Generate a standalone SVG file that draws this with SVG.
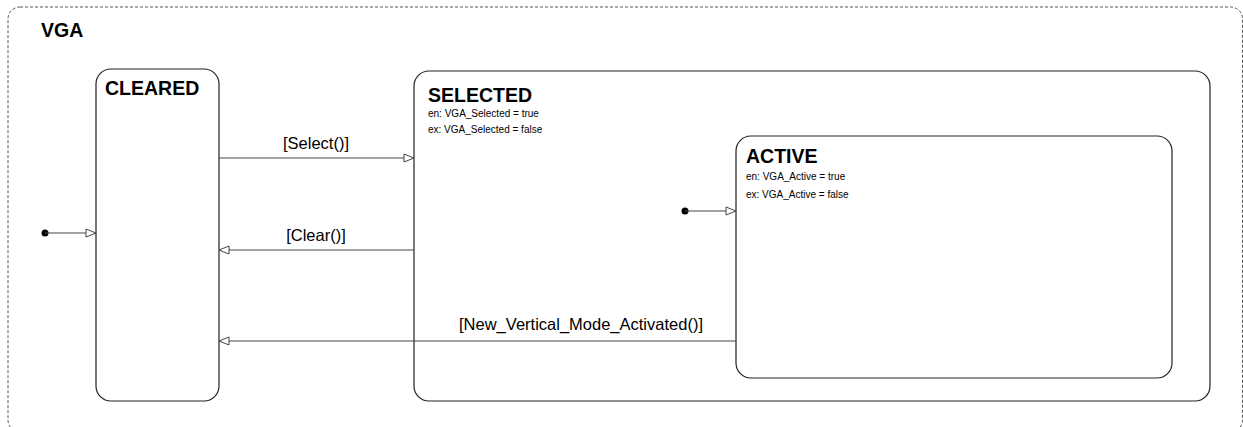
<svg xmlns="http://www.w3.org/2000/svg" width="1243" height="427" viewBox="0 0 1243 427">
<style>
.st{fill:#fff;stroke:#222;stroke-width:1.2}
.t{font-family:"Liberation Sans",Arial,sans-serif;fill:#000}
.h{font-weight:bold;font-size:19.5px}
.s{font-size:10px}
.l{font-size:16.5px;text-anchor:middle}
.c{stroke:#444;stroke-width:1.2;fill:none}
</style>
<defs>
<marker id="a" markerWidth="12" markerHeight="10" refX="11" refY="5" orient="auto" markerUnits="userSpaceOnUse">
<path d="M1,1 L11,5 L1,9 Z" fill="#fff" stroke="#444" stroke-width="1"/>
</marker>
</defs>
<rect width="1243" height="427" fill="#fff"/>
<g id="VGA">
<rect x="8" y="7" width="1234.5" height="425" rx="12" fill="none" stroke="#555" stroke-width="1" stroke-dasharray="3,2"/>
<text class="t h" x="41" y="37">VGA</text>
</g>
<g id="CLEARED">
<rect class="st" x="96" y="69" width="123" height="332" rx="15"/>
<text class="t h" x="105" y="95">CLEARED</text>
</g>
<g id="SELECTED">
<rect class="st" x="414" y="71" width="796" height="330" rx="15"/>
<text class="t h" x="428" y="102">SELECTED</text>
<text class="t s" x="428" y="117">en: VGA_Selected = true</text>
<text class="t s" x="428" y="133">ex: VGA_Selected = false</text>
</g>
<g id="ACTIVE">
<rect class="st" x="736" y="136" width="436" height="242" rx="15"/>
<text class="t h" x="746" y="163">ACTIVE</text>
<text class="t s" x="746" y="180">en: VGA_Active = true</text>
<text class="t s" x="746" y="198">ex: VGA_Active = false</text>
</g>
<g id="connectors">
<circle cx="45" cy="233" r="3.5" fill="#000"/>
<line class="c" x1="45" y1="233" x2="96" y2="233" marker-end="url(#a)"/>
<circle cx="685" cy="211" r="3.5" fill="#000"/>
<line class="c" x1="685" y1="211" x2="736" y2="211" marker-end="url(#a)"/>
<line class="c" x1="219" y1="158" x2="414" y2="158" marker-end="url(#a)"/>
<text class="t l" x="316" y="149">[Select()]</text>
<line class="c" x1="414" y1="250" x2="219" y2="250" marker-end="url(#a)"/>
<text class="t l" x="316" y="241">[Clear()]</text>
<line class="c" x1="736" y1="341" x2="219" y2="341" marker-end="url(#a)"/>
<text class="t l" x="581" y="330">[New_Vertical_Mode_Activated()]</text>
</g>
</svg>
